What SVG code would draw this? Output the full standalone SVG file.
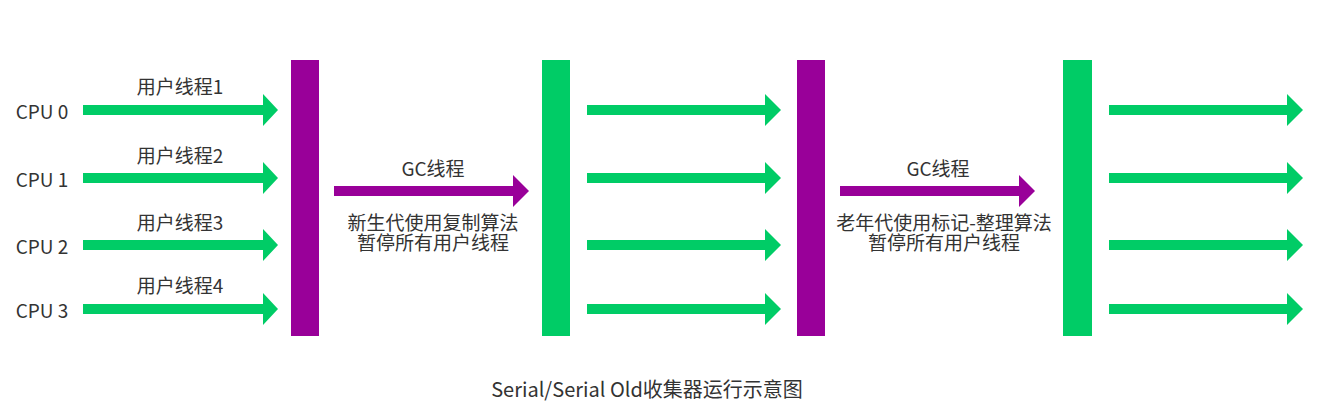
<svg xmlns="http://www.w3.org/2000/svg" width="1324" height="419" viewBox="0 0 1324 419">
<style>
text{font-family:"Noto Sans CJK SC","Microsoft YaHei",sans-serif;font-size:19px;fill:#333;text-anchor:middle;dominant-baseline:central}
.g{fill:#00cc66}
.p{fill:#990099}
</style>
<rect width="1324" height="419" fill="#fff"/>
<g id="bars">
<rect id="stw1" class="p" x="291" y="60" width="28" height="276"/>
<rect id="bar2" class="g" x="542" y="60" width="28" height="276"/>
<rect id="stw2" class="p" x="797" y="60" width="28" height="276"/>
<rect id="bar4" class="g" x="1063" y="60" width="29" height="276"/>
</g>
<g id="labels">
<text x="42" y="110">CPU 0</text>
<text x="42" y="178">CPU 1</text>
<text x="42" y="245">CPU 2</text>
<text x="42" y="309">CPU 3</text>
<text x="180" y="85">用户线程1</text>
<text x="180" y="154">用户线程2</text>
<text x="180" y="221">用户线程3</text>
<text x="180" y="284">用户线程4</text>
<text x="433" y="167">GC线程</text>
<text x="433" y="221">新生代使用复制算法<tspan x="433" dy="20">暂停所有用户线程</tspan></text>
<text x="938" y="167">GC线程</text>
<text x="944" y="221">老年代使用标记-整理算法<tspan x="944" dy="20">暂停所有用户线程</tspan></text>
<text x="647" y="388" style="font-size:20px">Serial/Serial Old收集器运行示意图</text>
</g>
<g id="connectors">
<polygon class="g" points="83,105 263,105 263,94 278,110 263,126 263,115 83,115"/>
<polygon class="g" points="83,173 263,173 263,162 278,178 263,194 263,183 83,183"/>
<polygon class="g" points="83,240 263,240 263,229 278,245 263,261 263,250 83,250"/>
<polygon class="g" points="83,304 263,304 263,293 278,309 263,325 263,314 83,314"/>
<polygon class="g" points="587,105 765,105 765,94 781,110 765,126 765,115 587,115"/>
<polygon class="g" points="587,173 765,173 765,162 781,178 765,194 765,183 587,183"/>
<polygon class="g" points="587,240 765,240 765,229 781,245 765,261 765,250 587,250"/>
<polygon class="g" points="587,304 765,304 765,293 781,309 765,325 765,314 587,314"/>
<polygon class="g" points="1109,105 1287,105 1287,94 1303,110 1287,126 1287,115 1109,115"/>
<polygon class="g" points="1109,173 1287,173 1287,162 1303,178 1287,194 1287,183 1109,183"/>
<polygon class="g" points="1109,240 1287,240 1287,229 1303,245 1287,261 1287,250 1109,250"/>
<polygon class="g" points="1109,304 1287,304 1287,293 1303,309 1287,325 1287,314 1109,314"/>
<polygon class="p" points="334,186 513,186 513,175 529,191 513,207 513,196 334,196"/>
<polygon class="p" points="840,186 1019,186 1019,175 1035,191 1019,207 1019,196 840,196"/>
</g>
</svg>
